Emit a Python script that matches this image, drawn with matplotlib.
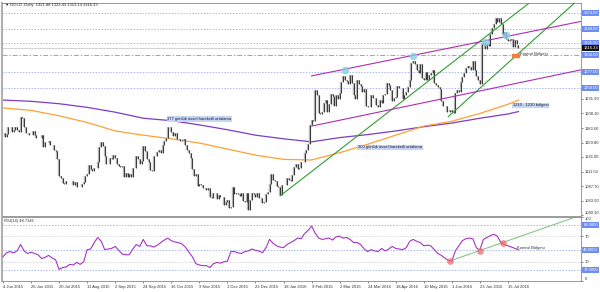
import matplotlib
matplotlib.use('Agg')
import matplotlib.pyplot as plt
import matplotlib.transforms as mtransforms
from matplotlib.patches import Rectangle

plt.rcParams['font.family'] = ['Liberation Sans', 'DejaVu Sans']

# gunluk kapanislar (4 Jun 2015 - 25 Jul 2016, tatiller yok)
closes = [
    1176, 1169,
    1174, 1185, 1186, 1178, 1180,
    1186, 1181, 1177, 1202, 1201,
    1185, 1176, 1175, 1173, 1173,
    1179, 1172, 1168, 1168, 1168,
    1173, 1152, 1160, 1160, 1163,
    1156, 1156, 1148, 1146, 1133,
    1105, 1101, 1093, 1092, 1097,
    1096, 1096, 1096, 1089, 1095,
    1086, 1086, 1086, 1091, 1094,
    1104, 1108, 1123, 1116, 1113,
    1118, 1117, 1127, 1153, 1160,
    1154, 1138, 1124, 1125, 1134,
    1133, 1140, 1134, 1124, 1121,
    1120, 1121, 1103, 1109, 1103,
    1108, 1103, 1118, 1117, 1138,
    1133, 1125, 1130, 1154, 1146,
    1132, 1127, 1114, 1113, 1137,
    1137, 1145, 1147, 1143, 1156,
    1163, 1167, 1186, 1186, 1177,
    1170, 1176, 1166, 1166, 1162,
    1164, 1166, 1156, 1147, 1142,
    1135, 1116, 1105, 1108, 1088,
    1091, 1090, 1085, 1084, 1081,
    1084, 1069, 1068, 1077, 1076,
    1067, 1073, 1069, 1069, 1057,
    1061, 1065, 1052, 1053, 1086,
    1075, 1076, 1075, 1071, 1076,
    1064, 1061, 1076, 1049, 1065,
    1076, 1074, 1070, 1076,
    1068, 1068, 1060, 1061,
    1075, 1078, 1092, 1108, 1098,
    1097, 1088, 1086, 1073, 1090,
    1089, 1089, 1102, 1098, 1097,
    1107, 1119, 1125, 1116, 1117,
    1128, 1128, 1142, 1147, 1158,
    1189, 1197, 1195, 1247, 1239,
    1209, 1207, 1211, 1226, 1230,
    1210, 1223, 1240, 1237, 1221,
    1238, 1231, 1241, 1260, 1270,
    1264, 1262, 1256, 1272, 1259,
    1238, 1232, 1263, 1257, 1254,
    1244, 1248, 1221, 1218,
    1219, 1238, 1234, 1234, 1222,
    1219, 1230, 1225, 1238, 1240,
    1259, 1255, 1246, 1228, 1233,
    1235, 1254, 1250, 1250, 1231,
    1238, 1243, 1252, 1264, 1292,
    1295, 1289, 1279, 1275, 1290,
    1266, 1263, 1276, 1264, 1272,
    1274, 1279, 1258, 1255, 1252,
    1248, 1228, 1221, 1221, 1211,
    1210, 1214, 1210, 1209, 1242,
    1246, 1244, 1260, 1269, 1274,
    1283, 1286, 1284, 1279, 1295,
    1279, 1270, 1264, 1256, 1322,
    1324, 1315, 1322, 1320, 1339,
    1349, 1356, 1366, 1359, 1365,
    1356, 1338, 1343, 1331, 1327,
    1330, 1331, 1318, 1330, 1323,
    1316.33,
]
last_open = 1321.88
header = "GOLD ,Daily  1321.88 1323.43 1313.14 1316.33"

# hareketli ortalamalar (resimden okunan noktalar)
ma_bars = [0, 16, 32, 48, 64, 80, 96, 112, 128, 144, 160, 176, 192, 208, 224, 240, 256, 272, 288, 294]
ema377 = [1230, 1228, 1224, 1218, 1210, 1200, 1196, 1189, 1181, 1172, 1166, 1161, 1168, 1173, 1179, 1186, 1192, 1200, 1207, 1211]
ema200 = [1217, 1213, 1204, 1193, 1179, 1172, 1166, 1159, 1149, 1139, 1132, 1131, 1143, 1157, 1172, 1187, 1195, 1208, 1223, 1230]

# RSI(14), her 2 bar
rsi = [
    38, 44, 46, 44, 47, 57, 47, 43, 45, 43, 41, 35, 37, 40, 36, 33,
    18, 21, 22, 26, 25, 29, 26, 30, 49, 50, 60, 68, 62, 49, 50, 51,
    54, 48, 42, 41, 41, 50, 57, 54, 65, 55, 55, 53, 56, 60, 64, 67,
    63, 61, 60, 58, 53, 45, 38, 27, 25, 24, 24, 21, 27, 29, 28, 30,
    31, 46, 46, 44, 43, 46, 47, 50, 48, 47, 44, 52, 65, 59, 55, 53,
    52, 57, 60, 63, 67, 66, 74, 79, 86, 75, 67, 65, 66, 67, 64, 69,
    70, 67, 68, 65, 60, 60, 57, 50, 46, 49, 47, 46, 51, 47, 50, 54,
    51, 50, 49, 52, 62, 65, 62, 60, 55, 56, 55, 49, 43, 40, 36, 32,
    31, 47, 55, 63, 66, 67, 66, 52, 48, 65, 68, 71, 73, 70, 60, 57,
    55, 53, 51, 48.7,
]
rsi_value = "RSI(14) 48.7145"

date_labels = ['4 Jun 2015', '26 Jun 2015', '20 Jul 2015', '11 Aug 2015', '2 Sep 2015',
               '24 Sep 2015', '16 Oct 2015', '9 Nov 2015', '1 Dec 2015', '23 Dec 2015',
               '18 Jan 2016', '9 Feb 2016', '2 Mar 2016', '24 Mar 2016', '18 Apr 2016',
               '10 May 2016', '1 Jun 2016', '23 Jun 2016', '15 Jul 2016']

price_ticks = [1231.90, 1208.10, 1183.60, 1159.80, 1136.00, 1111.50, 1087.70, 1063.90, 1040.10]
levels = [1374.00, 1348.00, 1325.00, 1277.00, 1250.00]
control_level = 1304.00
last_price = 1316.33
rsi_levels = [88, 49, 17]
rsi_minor = [70, 30]

# trend cizgileri: (baslangic bar, fiyat, egim/bar)
green_lines = [(158, 1071.5, 2.244), (254, 1202.6, 2.61)]
channel_lines = [(176, 1270.0, 0.586), (176, 1187.0, 0.605)]
touch_bars = [195, 234, 275, 287]
touch_prices = [1279, 1303, 1326, 1337]
rsi_touch_bars = [255, 272, 285]
rsi_touch_vals = [31.3, 47.3, 58.9]
rsi_trend = (255, 31.3, 0.96)

# -----------------------------------------
n = len(closes)
bars = list(range(n))
opens = [closes[0]] + closes[:-1]
opens[-1] = last_open
lo = [min(o, c) for o, c in zip(opens, closes)]
hi = [max(o, c) for o, c in zip(opens, closes)]
rsi_bars = list(range(0, 2 * len(rsi), 2))
date_ticks = list(range(0, 16 * len(date_labels), 16))

fig = plt.figure(figsize=(6, 2.92), dpi=100)
ax = fig.add_axes([2/600, 1 - 216/292, 579/600, 213/292])
ax_r = fig.add_axes([2/600, 1 - 281/292, 579/600, 64/292])

xlim = (-0.6, 329.7)
x_end = 331
for a in (ax, ax_r):
    a.set_xlim(*xlim)
    for s in a.spines.values():
        s.set_color('#8a8a8a')
        s.set_linewidth(0.6)
    a.spines['left'].set_color('#b0b0b0')
    a.spines['left'].set_linewidth(1.5)
    a.yaxis.tick_right()
    a.tick_params(axis='y', labelsize=3, length=1.5, width=0.4, pad=1, colors='#333333')

ax.set_ylim(1038.4, 1390.5)
ax.set_xticks([])

# yatay seviyeler
for lvl in levels:
    ax.axhline(lvl, color='#a9b9f2', lw=0.7, ls=(0, (1.5, 1.5)), zorder=1)
ax.axhline(control_level, color='#8ea2e6', lw=0.7, ls=(0, (5, 2, 1.5, 2)), zorder=1)
ax.axhline(last_price, color='#d4d4d4', lw=0.8, zorder=1)

# hareketli ortalamalar
ax.plot(ma_bars, ema377, color='#7d3cc4', lw=0.9, zorder=2)
ax.plot(ma_bars, ema200, color='#ffa033', lw=0.9, zorder=2)

# mumlar
ax.vlines(bars, lo, hi, color='#b4b4b4', lw=1.7, zorder=3)
ax.vlines(bars, lo, hi, color='#1a1a1a', lw=0.55, zorder=4)

# trend / kanal cizgileri
for b0, p0, k in green_lines:
    ax.plot([b0, x_end], [p0, p0 + k * (x_end - b0)], color='#2f9e2f', lw=0.8, zorder=5)
for b0, p0, k in channel_lines:
    ax.plot([b0, x_end], [p0, p0 + k * (x_end - b0)], color='#b02cb0', lw=0.8, zorder=5)

ax.scatter(touch_bars, touch_prices, s=30, color='#86cfe6', alpha=0.8, lw=0, zorder=6)
ax.add_patch(Rectangle((290.5, 1301.5), 3.8, 5.5, color='#f47c3c', zorder=6))

lbl_box = dict(boxstyle='square,pad=0.15', fc='#c6d5f0', ec='none')
ax.text(93.6, 1198.8, '377 günlük üssel hareketli ortalama', fontsize=3, color='#1a1a40',
        va='center', ha='left', bbox=lbl_box, zorder=7)
ax.text(202.5, 1151.7, '200 günlük üssel hareketli ortalama', fontsize=3, color='#1a1a40',
        va='center', ha='left', bbox=lbl_box, zorder=7)
ax.text(290.9, 1221.1, '1210 - 1230 bölgesi', fontsize=3, color='#1a1a40',
        va='center', ha='left', bbox=lbl_box, zorder=7)
ax.text(295, 1306.2, 'Kontrol Bölgesi', fontsize=3, color='#333333', va='center', ha='left', zorder=7)

ax.set_yticks(price_ticks)
ax.set_yticklabels([f'{p:.2f}' for p in price_ticks])
ax.get_yticklabels()[-1].set_va('bottom')

trans = mtransforms.blended_transform_factory(ax.transAxes, ax.transData)
for lvl in levels + [control_level]:
    ax.text(1.004, lvl, f'{lvl:.2f}', transform=trans, fontsize=3, color='white', va='center',
            ha='left', bbox=dict(boxstyle='square,pad=0.25', fc='#6d8df0', ec='none'), clip_on=False)
ax.text(1.004, last_price, f'{last_price:.2f}', transform=trans, fontsize=3, color='white', va='center',
        ha='left', bbox=dict(boxstyle='square,pad=0.25', fc='#111111', ec='none'), clip_on=False)

fig.text(4/600, 1 - 5/292, '▼', fontsize=3, color='#222222', va='center', ha='left')
fig.text(10/600, 1 - 5/292, header, fontsize=3, color='#222222', va='center', ha='left')

# RSI paneli
ax_r.set_ylim(0, 100)
for lvl in rsi_levels:
    ax_r.axhline(lvl, color='#a9b9f2', lw=0.7, ls=(0, (1.5, 1.5)), zorder=1)
for lvl in rsi_minor:
    ax_r.axhline(lvl, color='#d0d0d0', lw=0.6, ls=(0, (1.5, 1.5)), zorder=1)
ax_r.plot(rsi_bars, rsi, color='#a335c2', lw=0.8, zorder=3)
b0, v0, k = rsi_trend
ax_r.plot([b0, x_end], [v0, v0 + k * (x_end - b0)], color='#86c886', lw=0.8, zorder=2)
ax_r.scatter(rsi_touch_bars, rsi_touch_vals, s=24, color='#f07070', alpha=0.75, lw=0, zorder=4)
ax_r.text(293.2, 51.1, 'Kontrol Bölgesi', fontsize=3, color='#333333', va='center', ha='left', zorder=5)
ax_r.text(0.6, 94, rsi_value, fontsize=3, color='#333333', va='center', ha='left')

ax_r.set_yticks([100] + rsi_minor + [0])
ax_r.set_yticklabels(['100', '70', '30', '0'])
ax_r.get_yticklabels()[0].set_va('top')
ax_r.get_yticklabels()[-1].set_va('bottom')
trans_r = mtransforms.blended_transform_factory(ax_r.transAxes, ax_r.transData)
for lvl in rsi_levels:
    ax_r.text(1.004, lvl, f'{lvl:.4f}', transform=trans_r, fontsize=3, color='white', va='center',
              ha='left', bbox=dict(boxstyle='square,pad=0.25', fc='#6d8df0', ec='none'), clip_on=False)

ax_r.set_xticks(date_ticks)
ax_r.set_xticklabels(date_labels, ha='left')
ax_r.tick_params(axis='x', labelsize=3, length=1.5, width=0.4, pad=1.5, colors='#333333')

fig.savefig('out.png', dpi=100, facecolor='white')
